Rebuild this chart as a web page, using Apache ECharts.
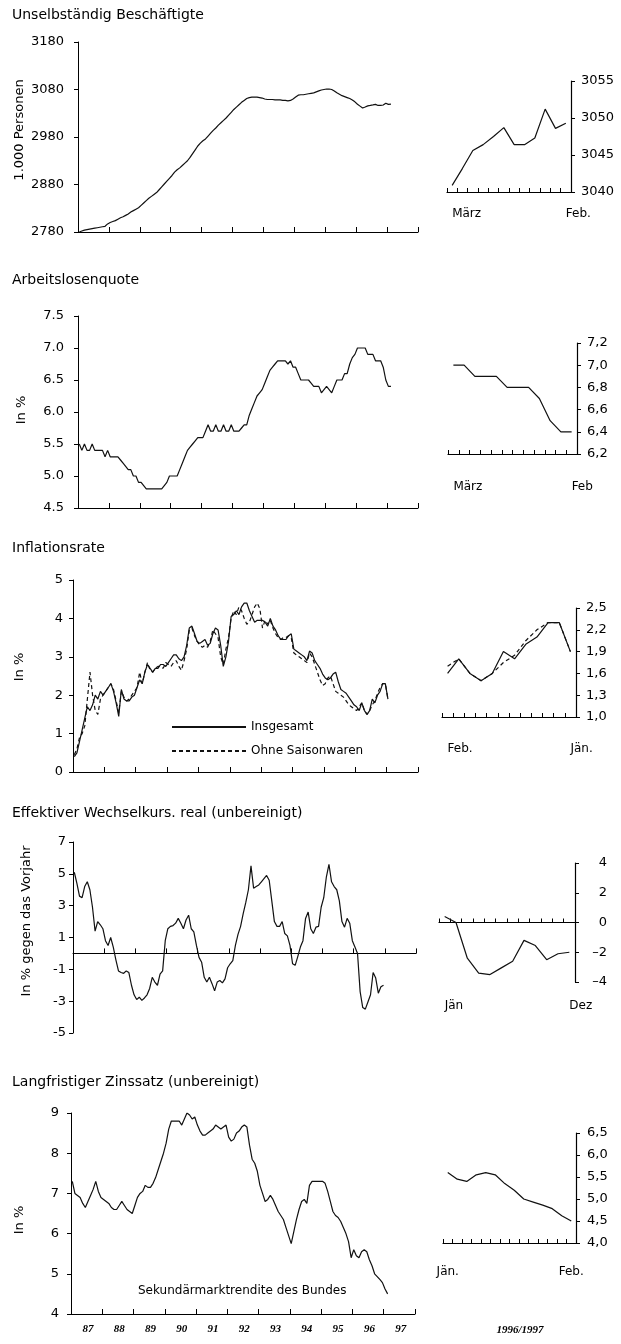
<!DOCTYPE html>
<html><head><meta charset="utf-8">
<script src="https://cdn.jsdelivr.net/npm/echarts@6/dist/echarts.min.js"></script>
<style>html,body{margin:0;padding:0;background:#fff}#c{width:621px;height:1344px}</style>
</head><body><div id="c"></div>
<script>
// ---------- data ----------
const years = ['87','88','89','90','91','92','93','94','95','96','97'];
const monthCats = [];
years.forEach(function (y) { for (let m = 1; m <= 12; m++) monthCats.push(y + '-' + m); });

// Unselbständig Beschäftigte, 1.000 Personen, Jan 87 - Feb 97
const employment = [
 2780,2782,2784,2785,2786,2787,2788,2789,2790,2791,2792,2797,
 2800,2802,2804,2807,2810,2812,2815,2818,2822,2825,2828,2831,
 2836,2841,2846,2851,2855,2859,2863,2869,2875,2881,2887,2893,
 2899,2906,2911,2915,2920,2925,2930,2937,2945,2953,2961,2967,
 2972,2976,2982,2988,2994,2999,3005,3010,3015,3020,3026,3032,
 3038,3043,3048,3053,3057,3061,3063,3064,3064,3064,3063,3062,
 3060,3059,3059,3059,3058,3058,3058,3057,3057,3056,3057,3060,
 3064,3068,3069,3069,3070,3071,3072,3073,3075,3077,3079,3080,
 3081,3081,3080,3077,3073,3070,3067,3065,3063,3061,3058,3054,
 3049,3045,3040.9,3043.2,3045.6,3046.4,3047.5,3048.7,3046.4,3046.4,3047.3,3051.2,
 3048.6,3049.3];

// Arbeitslosenquote, in %, Jan 87 - Feb 97
const unemployment = [
 5.5,5.4,5.5,5.4,5.4,5.5,5.4,5.4,5.4,5.4,5.3,5.4,
 5.3,5.3,5.3,5.3,5.25,5.2,5.15,5.1,5.1,5.0,5.0,4.9,
 4.9,4.85,4.8,4.8,4.8,4.8,4.8,4.8,4.8,4.85,4.9,5.0,
 5.0,5.0,5.0,5.1,5.2,5.3,5.4,5.45,5.5,5.55,5.6,5.6,
 5.6,5.7,5.8,5.7,5.7,5.8,5.7,5.7,5.8,5.7,5.7,5.8,
 5.7,5.7,5.7,5.75,5.8,5.8,5.95,6.05,6.15,6.25,6.3,6.35,
 6.45,6.55,6.65,6.7,6.75,6.8,6.8,6.8,6.8,6.75,6.8,6.7,
 6.7,6.6,6.5,6.5,6.5,6.5,6.45,6.4,6.4,6.4,6.3,6.35,
 6.4,6.35,6.3,6.4,6.5,6.5,6.5,6.6,6.6,6.75,6.85,6.9,
 7.0,7.0,7.0,7.0,6.9,6.9,6.9,6.8,6.8,6.8,6.7,6.5,
 6.4,6.4];

// Inflationsrate, in %, Jan 87 - Jan 97
const inflationTotal = [
 0.4,0.5,0.8,1.1,1.4,1.7,1.6,1.75,2.0,1.9,2.1,2.0,
 2.1,2.2,2.3,2.1,1.8,1.45,2.15,1.9,1.85,1.85,1.95,2.0,
 2.2,2.4,2.3,2.6,2.8,2.7,2.6,2.7,2.7,2.8,2.8,2.75,
 2.85,2.95,3.05,3.05,2.95,2.9,3.0,3.3,3.75,3.8,3.6,3.4,
 3.35,3.4,3.45,3.3,3.35,3.6,3.75,3.7,3.3,2.75,3.0,3.4,
 4.05,4.1,4.2,4.1,4.3,4.4,4.4,4.2,4.05,3.9,3.95,3.95,
 3.95,3.9,3.8,4.0,3.8,3.7,3.55,3.45,3.45,3.45,3.55,3.6,
 3.2,3.15,3.1,3.05,3.0,2.9,3.15,3.1,2.9,2.8,2.7,2.55,
 2.45,2.4,2.45,2.55,2.6,2.35,2.15,2.1,2.05,1.95,1.85,1.75,
 1.7,1.6,1.8,1.6,1.5,1.6,1.9,1.8,2.0,2.1,2.3,2.3,
 1.9];
const inflationCore = [
 0.45,0.6,0.9,1.0,1.2,1.9,2.6,2.0,1.6,1.5,1.9,2.0,
 2.1,2.2,2.3,2.15,1.85,1.55,2.1,1.95,1.85,1.9,2.0,2.1,
 2.2,2.6,2.3,2.6,2.85,2.65,2.6,2.7,2.75,2.75,2.7,2.85,
 2.8,2.75,2.85,2.9,2.75,2.65,2.9,3.2,3.7,3.75,3.55,3.4,
 3.3,3.25,3.3,3.25,3.4,3.7,3.6,3.5,3.0,2.8,3.2,3.5,
 4.0,4.2,4.1,4.3,4.2,4.0,3.85,3.9,4.1,4.3,4.4,4.25,
 3.75,3.95,3.85,3.95,3.75,3.6,3.5,3.45,3.5,3.5,3.55,3.5,
 3.1,3.05,3.0,2.95,2.9,2.85,3.1,3.0,2.8,2.6,2.4,2.25,
 2.3,2.45,2.5,2.3,2.1,2.05,2.0,1.95,1.85,1.75,1.7,1.65,
 1.6,1.7,1.8,1.6,1.5,1.6,1.75,1.85,2.05,2.2,2.3,2.3,
 1.9];

// Effektiver Wechselkurs real, in % gegen das Vorjahr, Jan 87 - Dez 96
const exchangeRate = [
 5.1,4.4,3.6,3.5,4.2,4.5,4.0,2.9,1.4,2.0,1.8,1.55,
 0.8,0.5,1.0,0.4,-0.4,-1.1,-1.2,-1.25,-1.1,-1.2,-2.0,-2.6,
 -2.9,-2.75,-2.95,-2.8,-2.6,-2.2,-1.5,-1.8,-2.0,-1.3,-1.1,0.8,
 1.55,1.7,1.75,1.9,2.2,1.9,1.55,2.1,2.4,1.55,1.35,0.5,
 -0.25,-0.55,-1.5,-1.8,-1.5,-1.9,-2.35,-1.8,-1.7,-1.85,-1.6,-0.9,
 -0.65,-0.45,0.5,1.2,1.7,2.5,3.2,4.0,5.5,4.1,4.2,4.3,
 4.5,4.7,4.9,4.6,3.3,2.0,1.7,1.7,2.0,1.25,1.1,0.5,
 -0.65,-0.75,-0.2,0.4,0.8,2.2,2.6,1.55,1.25,1.65,1.7,2.9,
 3.5,4.8,5.6,4.5,4.2,4.0,3.3,2.0,1.65,2.2,1.9,0.8,
 0.4,0.0,-2.4,-3.4,-3.5,-3.05,-2.6,-1.2,-1.55,-2.5,-2.1,-2.0];

// Langfristiger Zinssatz, in %, Jan 87 - Feb 97
const longRate = [
 7.3,7.0,6.95,6.9,6.75,6.65,6.8,6.95,7.1,7.3,7.05,6.9,
 6.85,6.8,6.75,6.65,6.6,6.6,6.7,6.8,6.7,6.6,6.55,6.5,
 6.7,6.9,7.0,7.05,7.2,7.15,7.15,7.25,7.4,7.6,7.8,8.0,
 8.25,8.6,8.8,8.8,8.8,8.8,8.7,8.85,9.0,8.95,8.85,8.9,
 8.7,8.55,8.45,8.45,8.5,8.55,8.6,8.7,8.65,8.6,8.65,8.7,
 8.4,8.3,8.35,8.5,8.55,8.65,8.7,8.65,8.2,7.85,7.75,7.55,
 7.2,7.0,6.8,6.85,6.95,6.85,6.7,6.55,6.45,6.35,6.15,5.95,
 5.75,6.05,6.35,6.6,6.8,6.85,6.75,7.2,7.3,7.3,7.3,7.3,
 7.3,7.25,7.05,6.8,6.55,6.45,6.4,6.3,6.15,6.0,5.8,5.4,
 5.6,5.45,5.4,5.55,5.6,5.55,5.35,5.2,5.0,4.93,4.86,4.78,
 4.62,4.5];

// inset windows (start index into the monthly arrays) and end labels
const inset1Start = 110, inset1Ends = ['März', 'Feb.'];
const inset2Start = 110, inset2Ends = ['März', 'Feb'];
const inset3Start = 109, inset3Ends = ['Feb.', 'Jän.'];
const inset4Start = 108, inset4Ends = ['Jän', 'Dez'];
const inset5Start = 108, inset5Ends = ['Jän.', 'Feb.'];

const titles = ['Unselbständig Beschäftigte', 'Arbeitslosenquote', 'Inflationsrate',
  'Effektiver Wechselkurs. real (unbereinigt)', 'Langfristiger Zinssatz (unbereinigt)'];
const yNames = ['1.000 Personen', 'In %', 'In %', 'In % gegen das Vorjahr', 'In %'];
const legendNames = ['Insgesamt', 'Ohne Saisonwaren'];
const noteText = 'Sekundärmarktrendite des Bundes';
const insetPeriod = '1996/1997';

// ---------- helpers ----------
const FONT = 'DejaVu Sans';
const BLACK = '#000';
const lineCol = '#111';

function mainX(gi, showLabels) {
  return {
    type: 'category', gridIndex: gi, data: monthCats, boundaryGap: true,
    axisLine: { lineStyle: { color: BLACK, width: 1 } },
    axisTick: { show: true, inside: true, length: 5, interval: function (i) { return i % 12 === 0; }, lineStyle: { color: BLACK } },
    axisLabel: {
      show: showLabels, interval: function (i) { return i % 12 === 6; },
      formatter: function (v) { return v.split('-')[0]; },
      fontFamily: 'Liberation Serif', fontStyle: 'italic', fontWeight: 'bold', fontSize: 11, color: BLACK, margin: 10
    },
    splitLine: { show: false }
  };
}
function mainY(gi, min, max, interval, fmt, margin) {
  return {
    type: 'value', gridIndex: gi, min: min, max: max, interval: interval,
    axisLine: { show: true, onZero: false, lineStyle: { color: BLACK, width: 1 } },
    axisTick: { show: true, length: 4, lineStyle: { color: BLACK } },
    axisLabel: { fontFamily: FONT, fontSize: 13, color: BLACK, margin: margin, formatter: fmt },
    splitLine: { show: false }
  };
}
function insetX(gi, start, count, ends, align, margin, showLine) {
  const cats = monthCats.slice(start, start + count);
  return {
    type: 'category', gridIndex: gi, data: cats, boundaryGap: true, position: 'bottom',
    axisLine: { show: showLine, onZero: false, lineStyle: { color: BLACK, width: 1.2 } },
    axisTick: { show: showLine, inside: true, length: 4, interval: 0, lineStyle: { color: BLACK } },
    axisLabel: {
      show: true, interval: function (i) { return i === 0 || i === count - 1; },
      formatter: function (v, i) { return i === 0 ? ends[0] : ends[1]; },
      fontFamily: FONT, fontSize: 12, color: BLACK, align: align, margin: margin
    },
    splitLine: { show: false }
  };
}
function insetY(gi, min, max, interval, fmt, margin, align) {
  return {
    type: 'value', gridIndex: gi, position: 'right', min: min, max: max, interval: interval,
    axisLine: { show: true, onZero: false, lineStyle: { color: BLACK, width: 1.2 } },
    axisTick: { show: true, length: 4, lineStyle: { color: BLACK } },
    axisLabel: { fontFamily: FONT, fontSize: 13, color: BLACK, margin: margin, align: align || 'left', formatter: fmt },
    splitLine: { show: false }
  };
}
function comma(d) { return function (v) { return v.toFixed(d).replace('.', ','); }; }
function line(xi, yi, data, name, dashed) {
  return {
    type: 'line', name: name, xAxisIndex: xi, yAxisIndex: yi, data: data,
    symbol: 'none', silent: true, animation: false,
    lineStyle: { color: lineCol, width: 1.2, type: dashed ? [4, 3] : 'solid' },
    itemStyle: { color: lineCol }
  };
}

// ---------- layout ----------
const grids = [
  { left: 78, top: 42, width: 340, height: 190 },
  { left: 78, top: 316, width: 340, height: 192 },
  { left: 73, top: 580, width: 345, height: 192 },
  { left: 73, top: 842, width: 343, height: 191 },
  { left: 71, top: 1113, width: 344, height: 201 },
  { left: 447, top: 81, width: 124, height: 111 },
  { left: 448, top: 343, width: 129, height: 111 },
  { left: 442, top: 608, width: 134, height: 109 },
  { left: 439, top: 863, width: 136, height: 119 },
  { left: 443, top: 1133, width: 133, height: 110 }
];
const titleY = [15, 280, 548, 813, 1082];
const nameXY = [[20, 130], [22, 410], [20, 667], [27, 921], [20, 1220]];

const xAxes = [
  mainX(0, false), mainX(1, false), mainX(2, false), mainX(3, false), mainX(4, true),
  insetX(5, inset1Start, 12, inset1Ends, 'left', 16, true),
  insetX(6, inset2Start, 12, inset2Ends, 'left', 27, true),
  insetX(7, inset3Start, 12, inset3Ends, 'left', 26, true),
  insetX(8, inset4Start, 12, inset4Ends, 'left', 18, true),
  insetX(9, inset5Start, 14, inset5Ends, 'center', 23, true)
];
// inset 4: the axis line sits at zero, labels stay at the bottom on a label-only axis
xAxes[8].axisLine.onZero = true;
xAxes[8].axisLabel.show = false;
const inset4Labels = insetX(8, inset4Start, 12, inset4Ends, 'left', 18, false);
inset4Labels.position = 'bottom';
inset4Labels.offset = 0;
xAxes.push(inset4Labels);
// main panel 4 axis at zero
xAxes[3].axisLine.onZero = true;

const yAxes = [
  mainY(0, 2780, 3180, 100, function (v) { return String(v); }, 14),
  mainY(1, 4.5, 7.5, 0.5, function (v) { return v.toFixed(1); }, 14),
  mainY(2, 0, 5, 1, function (v) { return String(v); }, 10),
  mainY(3, -5, 7, 2, function (v) { return String(v); }, 7),
  mainY(4, 4, 9, 1, function (v) { return String(v); }, 12),
  insetY(5, 3040, 3055, 5, function (v) { return String(v); }, 10),
  insetY(6, 6.2, 7.2, 0.2, comma(1), 10),
  insetY(7, 1.0, 2.5, 0.3, comma(1), 10),
  insetY(8, -4, 4, 2, function (v) { return v < 0 ? '\u2013' + Math.abs(v) : String(v); }, 32, 'right'),
  insetY(9, 4.0, 6.5, 0.5, comma(1), 11)
];

const series = [
  line(0, 0, employment, 'employment'),
  line(1, 1, unemployment, 'unemployment'),
  line(2, 2, inflationCore, legendNames[1], true),
  line(2, 2, inflationTotal, legendNames[0], false),
  line(3, 3, exchangeRate, 'exchange'),
  line(4, 4, longRate, 'longRate'),
  line(5, 5, employment.slice(inset1Start, inset1Start + 12), 'employment9697'),
  line(6, 6, unemployment.slice(inset2Start, inset2Start + 12), 'unemployment9697'),
  line(7, 7, inflationCore.slice(inset3Start, inset3Start + 12), 'core9697', true),
  line(7, 7, inflationTotal.slice(inset3Start, inset3Start + 12), 'total9697'),
  line(8, 8, exchangeRate.slice(inset4Start, inset4Start + 12), 'exchange96'),
  line(9, 9, longRate.slice(inset5Start, inset5Start + 14), 'longRate9697')
];

const graphic = [];
titles.forEach(function (t, k) {
  graphic.push({ type: 'text', x: 12, y: titleY[k], silent: true,
    style: { text: t, fontFamily: FONT, fontSize: 14, fill: BLACK, align: 'left', verticalAlign: 'middle' } });
});
yNames.forEach(function (t, k) {
  graphic.push({ type: 'text', x: nameXY[k][0], y: nameXY[k][1], rotation: Math.PI / 2, silent: true,
    style: { text: t, fontFamily: FONT, fontSize: 13, fill: BLACK, align: 'center', verticalAlign: 'middle' } });
});
graphic.push({ type: 'text', x: 138, y: 1291, silent: true,
  style: { text: noteText, fontFamily: FONT, fontSize: 12, fill: BLACK, align: 'left', verticalAlign: 'middle' } });
graphic.push({ type: 'text', x: 520, y: 1330, silent: true,
  style: { text: insetPeriod, fontFamily: 'Liberation Serif', fontStyle: 'italic', fontWeight: 'bold', fontSize: 11, fill: BLACK, align: 'center', verticalAlign: 'middle' } });

const chart = echarts.init(document.getElementById('c'), null, { renderer: 'canvas' });
chart.setOption({
  backgroundColor: '#fff',
  animation: false,
  textStyle: { fontFamily: FONT, color: BLACK },
  grid: grids,
  xAxis: xAxes,
  yAxis: yAxes,
  legend: {
    show: true, orient: 'vertical', left: 166, top: 716, itemWidth: 74, itemHeight: 12, itemGap: 12,
    selectedMode: false, data: legendNames,
    itemStyle: { opacity: 0 },
    textStyle: { fontFamily: FONT, fontSize: 12, color: BLACK }
  },
  series: series,
  graphic: graphic
});
</script>
</body></html>
